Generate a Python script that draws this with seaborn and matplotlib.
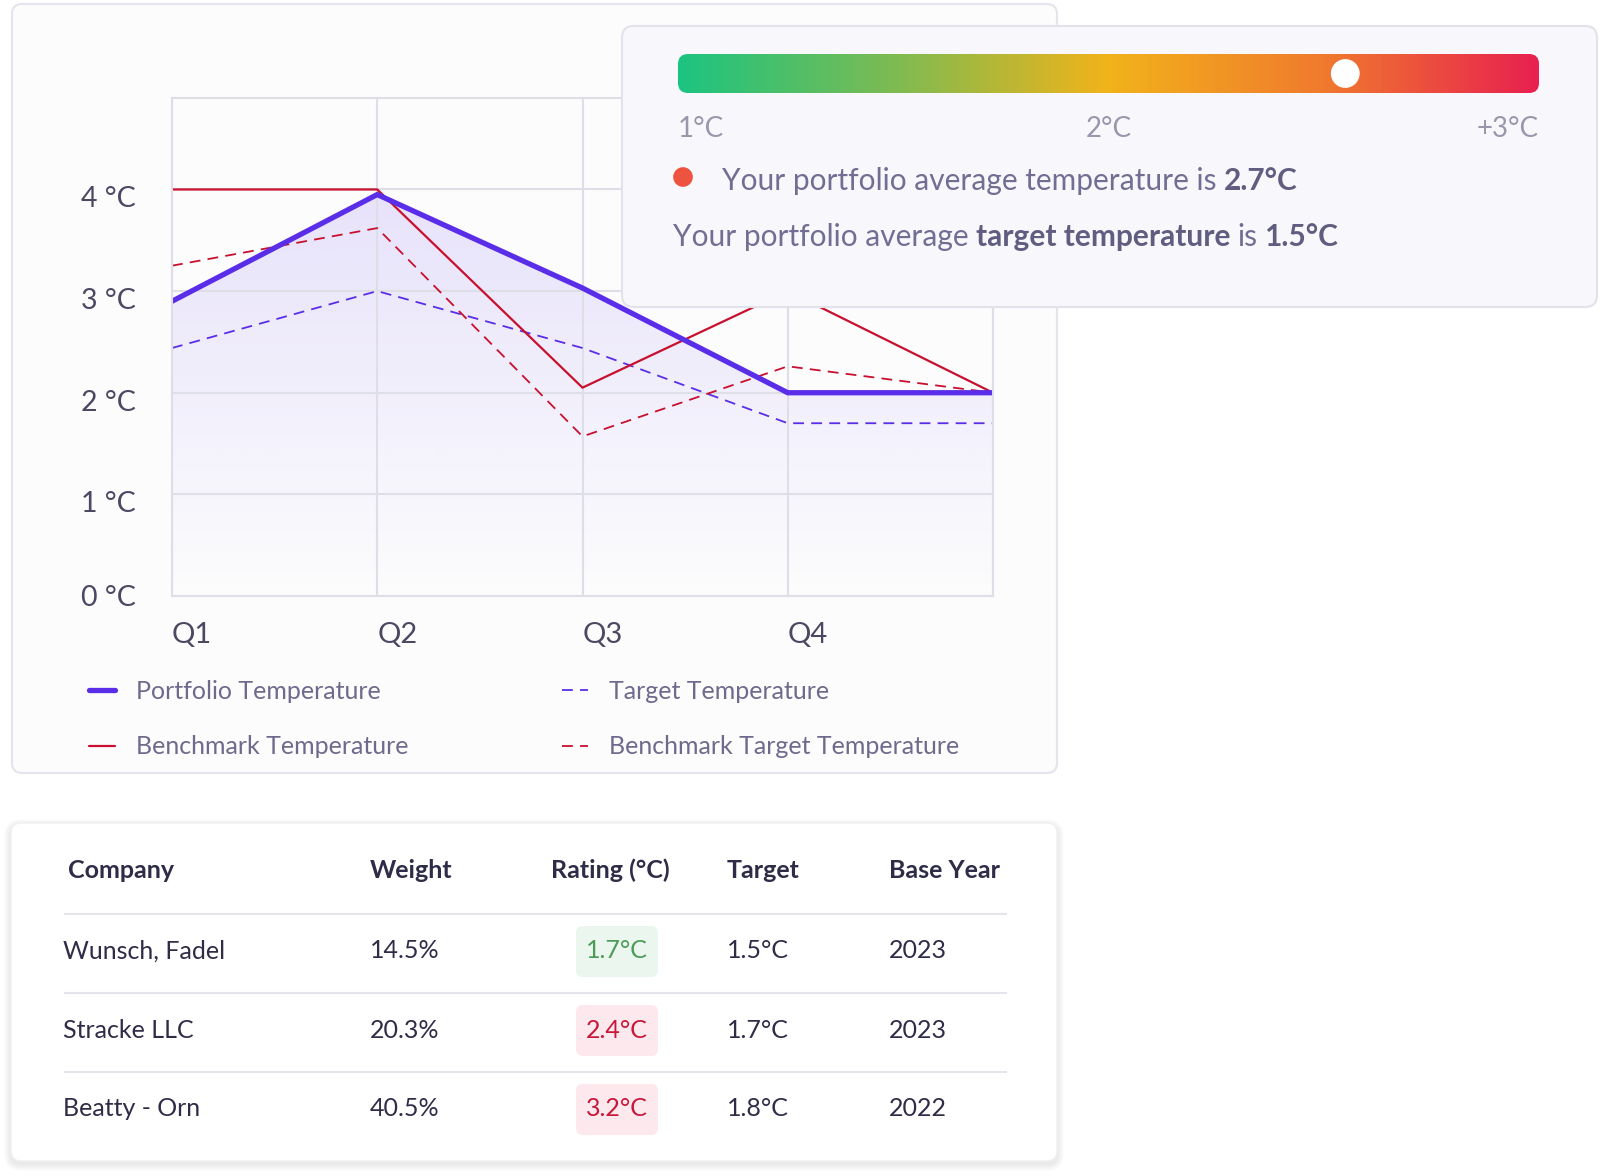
import numpy as np
import pandas as pd
import seaborn as sns
import matplotlib as mpl
import matplotlib.pyplot as plt
from matplotlib.patches import FancyBboxPatch
from matplotlib.colors import LinearSegmentedColormap
from matplotlib.transforms import ScaledTranslation

# ------------------------------------------------------------------
# data
# ------------------------------------------------------------------
quarters = ["Q1", "Q2", "Q3", "Q4", ""]
portfolio = [2.9, 3.95, 3.03, 2.0, 2.0]
benchmark = [4.0, 4.0, 2.05, 3.0, 2.0]
target = [2.44, 3.0, 2.44, 1.7, 1.7]
benchmark_target = [3.25, 3.62, 1.57, 2.26, 2.0]
y_ticks = [0, 1, 2, 3, 4]

scale_ticks = [1, 2, 3]
scale_labels = ["1°C", "2°C", "+3°C"]
marker_pos = 2.55
avg_temp = "2.7°C"
avg_target = "1.5°C"

headers = ["Company", "Weight", "Rating (°C)", "Target", "Base Year"]
companies = ["Wunsch, Fadel", "Stracke LLC", "Beatty - Orn"]
weights = ["14.5%", "20.3%", "40.5%"]
ratings = [1.7, 2.4, 3.2]
targets = ["1.5°C", "1.7°C", "1.8°C"]
base_years = ["2023", "2023", "2022"]

# colours
PURPLE = "#5a2ee8"
RED = "#c8102e"
GRID = "#dedee6"
TICK_C = "#4b4862"
LEGEND_C = "#6f6a8c"
TEXT_C = "#726e93"
BOLD_C = "#615d80"
DARK = "#2f2c48"

sns.set_theme(style="white")
plt.rcParams["font.family"] = ["Lato", "DejaVu Sans"]

W, H = 1600, 1176
fig = plt.figure(figsize=(16, 11.76), dpi=100)
fig.patch.set_facecolor("white")


def px_axes(z):
    a = fig.add_axes([0, 0, 1, 1], zorder=z)
    a.set_xlim(0, W)
    a.set_ylim(H, 0)
    a.axis("off")
    a.patch.set_alpha(0)
    return a


def card(a, x, y, w, h, fc, ec, r=10, lw=1.5, shadow=False):
    if shadow:
        for k in range(1, 8):
            a.add_patch(FancyBboxPatch((x - k, y - k + 3), w + 2 * k, h + 2 * k,
                                       boxstyle=f"round,pad=0,rounding_size={r + k}",
                                       fc="#1c1a40", ec="none", alpha=0.01))
    a.add_patch(FancyBboxPatch((x, y), w, h, boxstyle=f"round,pad=0,rounding_size={r}",
                               fc=fc, ec=ec, lw=lw))


def rich(a, x, y, parts, size, gap=5):
    prev = None
    for txt, bold in parts:
        kw = dict(fontsize=size, fontweight="bold" if bold else "normal",
                  color=BOLD_C if bold else TEXT_C)
        if prev is None:
            prev = a.text(x, y, txt, va="center", ha="left", **kw)
        else:
            prev = a.annotate(txt, xy=(1, 0), xycoords=prev, xytext=(gap, 0),
                              textcoords="offset points", va="bottom", ha="left", **kw)


# background cards
bg = px_axes(0)
card(bg, 12, 4, 1045, 769, fc="#fcfcfd", ec="#e4e4ea", r=10)
card(bg, 11, 823, 1046, 338, fc="white", ec="#f0f0f4", r=10, lw=1, shadow=True)

# ------------------------------------------------------------------
# line chart
# ------------------------------------------------------------------
ax = fig.add_axes([172 / W, 1 - 596 / H, 821 / W, 498 / H], zorder=1)
ax.patch.set_alpha(0)

x = np.arange(len(quarters))
df = pd.DataFrame({"q": x, "portfolio": portfolio, "benchmark": benchmark,
                   "target": target, "benchmark_target": benchmark_target})

# gradient area under the portfolio line
poly = ax.fill_between(x, portfolio, 0, color="none", lw=0)
grad = np.zeros((256, 1, 4))
grad[..., :3] = mpl.colors.to_rgb("#7350ee")
grad[:, 0, 3] = np.linspace(0.15, 0.0, 256)
im = ax.imshow(grad, extent=(x[0], x[-1], 0, max(portfolio)), aspect="auto",
               origin="upper", zorder=0.5)
im.set_clip_path(poly.get_paths()[0], transform=ax.transData)

sns.lineplot(data=df, x="q", y="target", ax=ax, color=PURPLE, lw=1.3,
             linestyle=(0, (6, 4)), label="Target Temperature")
sns.lineplot(data=df, x="q", y="benchmark_target", ax=ax, color=RED, lw=1.3,
             linestyle=(0, (6, 4)), label="Benchmark Target Temperature")
sns.lineplot(data=df, x="q", y="benchmark", ax=ax, color=RED, lw=1.6,
             solid_joinstyle="round", label="Benchmark Temperature")
sns.lineplot(data=df, x="q", y="portfolio", ax=ax, color=PURPLE, lw=3.8,
             solid_joinstyle="miter", label="Portfolio Temperature")

ax.set_xlim(x[0], x[-1])
ax.set_ylim(0, 4.9)
ax.set_xticks(x)
ax.set_xticklabels(quarters)
ax.set_yticks(y_ticks)
ax.set_yticklabels([f"{v} °C" for v in y_ticks])
ax.set_xlabel("")
ax.set_ylabel("")
ax.grid(True, color=GRID, lw=1.5)
ax.set_axisbelow(True)
for s in ax.spines.values():
    s.set_color(GRID)
    s.set_linewidth(1.5)
ax.tick_params(axis="y", length=0, pad=26, labelsize=20.5, labelcolor=TICK_C)
ax.tick_params(axis="x", length=0, pad=19, labelsize=21, labelcolor=TICK_C)
for t in ax.get_xticklabels():
    t.set_ha("left")
# the reference prints the non-zero y labels a little below their grid line
shift = ScaledTranslation(0, -0.075, fig.dpi_scale_trans)
for v, t in zip(y_ticks, ax.get_yticklabels()):
    if v > 0:
        t.set_transform(t.get_transform() + shift)

h, l = ax.get_legend_handles_labels()
lookup = dict(zip(l, h))
order = ["Portfolio Temperature", "Benchmark Temperature",
         "Target Temperature", "Benchmark Target Temperature"]
leg = ax.legend([lookup[k] for k in order], order, ncol=2, loc="upper left",
                bbox_to_anchor=(89 / W, 1 - 680 / H), bbox_transform=fig.transFigure,
                frameon=False, fontsize=18, handlelength=1.05, handletextpad=0.85,
                columnspacing=6.1, labelspacing=1.3, borderpad=0, borderaxespad=0)
for t in leg.get_texts():
    t.set_color(LEGEND_C)

# ------------------------------------------------------------------
# overlay card with temperature gauge
# ------------------------------------------------------------------
ov = px_axes(5)
card(ov, 622, 26, 975, 281, fc="#f8f8fc", ec="#e2e2ea", r=12)

gx = fig.add_axes([678 / W, 1 - 93 / H, 861 / W, 39 / H], zorder=6)
gx.set_xlim(scale_ticks[0], scale_ticks[-1])
gx.set_ylim(0, 1)
gx.axis("off")
cmap = LinearSegmentedColormap.from_list(
    "temp", ["#1cc481", "#7dbb52", "#f2b31a", "#f07a2e", "#e8204f"])
gim = gx.imshow(np.linspace(0, 1, 512)[None, :], cmap=cmap,
                extent=(scale_ticks[0], scale_ticks[-1], 0, 1), aspect="auto")
clip = FancyBboxPatch((scale_ticks[0], 0), scale_ticks[-1] - scale_ticks[0], 1,
                      boxstyle="round,pad=0,rounding_size=0.0232", mutation_aspect=11.04,
                      fc="none", ec="none", transform=gx.transData)
gx.add_patch(clip)
gim.set_clip_path(clip)
gx.scatter([marker_pos], [0.5], s=430, color="white", edgecolor="none", zorder=3,
           clip_on=False)
for v, lab, ha in zip(scale_ticks, scale_labels, ["left", "center", "right"]):
    gx.text(v, -0.92, lab, ha=ha, va="center", fontsize=20, color="#9a97ad")

ov.scatter([683], [177], s=200, color="#ee5340", edgecolor="none")
rich(ov, 722, 181, [("Your portfolio average temperature is", False), (avg_temp, True)], 21.5)
rich(ov, 673, 237, [("Your portfolio average", False), ("target temperature", True),
                    ("is", False), (avg_target, True)], 21.5)

# ------------------------------------------------------------------
# table
# ------------------------------------------------------------------
head_x = [68, 370, 551, 727, 889]
row_x = [63, 370, 617, 727, 889]
header_y = 870
row_y0, row_h = 951, 79

for hx, hd in zip(head_x, headers):
    bg.text(hx, header_y, hd, ha="left", va="center", fontsize=18,
            fontweight="bold", color=DARK)

for i in range(len(companies)):
    ly = header_y + 44 + i * row_h
    bg.plot([64, 1007], [ly, ly], color="#e4e4ea", lw=1.5, solid_capstyle="butt")
    ry = row_y0 + i * row_h
    bg.text(row_x[0], ry, companies[i], ha="left", va="center", fontsize=18, color=DARK)
    bg.text(row_x[1], ry, weights[i], ha="left", va="center", fontsize=18, color=DARK)
    good = ratings[i] < 2
    bg.add_patch(FancyBboxPatch((row_x[2] - 41, ry - 25), 82, 51,
                                boxstyle="round,pad=0,rounding_size=7",
                                fc="#eaf6ee" if good else "#fde8ee", ec="none"))
    bg.text(row_x[2], ry, f"{ratings[i]}°C", ha="center", va="center", fontsize=18,
            color="#4c9b58" if good else "#c8183a")
    bg.text(row_x[3], ry, targets[i], ha="left", va="center", fontsize=18, color=DARK)
    bg.text(row_x[4], ry, base_years[i], ha="left", va="center", fontsize=18, color=DARK)

fig.savefig("out.png", dpi=100)
